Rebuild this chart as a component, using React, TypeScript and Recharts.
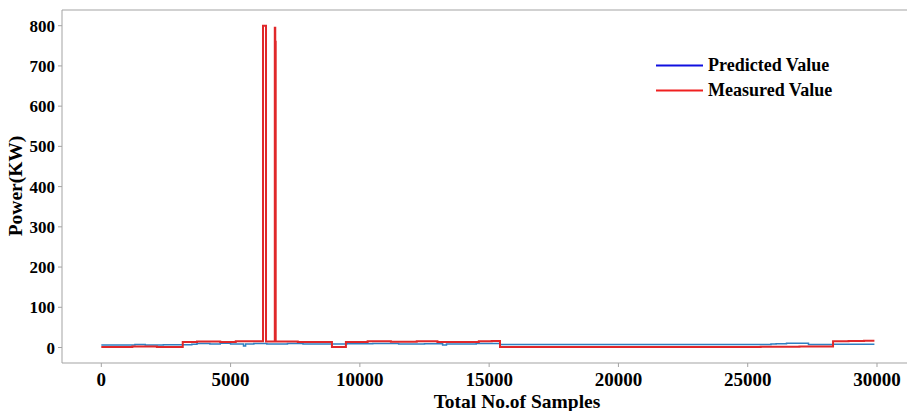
import React from 'react';
import { LineChart, Line, XAxis, YAxis, ReferenceLine, Label } from 'recharts';

const FONT = '"Liberation Serif", "Times New Roman", serif';
const SPINE = '#a3a3a3';
const BLUE = '#2f7fc1';
const RED = '#e0282a';

// axis ticks
const xTicks = [0, 5000, 10000, 15000, 20000, 25000, 30000];
const yTicks = [0, 100, 200, 300, 400, 500, 600, 700, 800];

const measuredSamples = [
  0, 1200, 2150, 3150, 3700, 4600, 5200, 6254, 6370, 6710, 6728, 6745, 7600,
  8920, 9460, 10300, 11200, 12200, 13000, 14000, 14600, 15100, 15420, 25500,
  27000, 28300, 28900, 29500, 29900,
];
const measuredPower = [
  1, 2.5, 1, 14, 15, 14, 15.5, 800, 15, 795, 760, 15, 14,
  1, 14, 15.5, 14.5, 15.5, 14, 13.5, 15.5, 16, 1, 2,
  2.5, 15.5, 16.5, 17, 17,
];

// predicted value
const predictedSamples = [
  0, 1300, 1700, 2400, 3150, 3500, 3700, 4200, 4600, 5000, 5500, 5580, 5900,
  6400, 7200, 7800, 9000, 9500, 10500, 11500, 12500, 13200, 13350, 14100,
  14500, 15420, 25900, 26100, 26500, 27350, 28300, 29900,
];
const predictedPower = [
  6, 7.5, 6, 7, 7, 8, 10, 9, 10.5, 9, 4, 9, 10,
  9, 10, 9, 8.5, 9.5, 10, 9, 9.5, 6.5, 9, 8.5,
  10, 7.5, 8.5, 9.5, 10.5, 7.5, 8, 8,
];

const toSeries = (xs: number[], ys: number[]) =>
  xs.map((x, i) => ({ sample: x, power: ys[i] }));

const measured = toSeries(measuredSamples, measuredPower);
const predicted = toSeries(predictedSamples, predictedPower);

const tickStyle = { fill: '#000', fontFamily: FONT, fontWeight: 'bold' };

const legendItems = [
  { name: 'Predicted Value', color: '#1010e0' },
  { name: 'Measured Value', color: '#f02020' },
];

export default function App() {
  return (
    <div
      style={{
        position: 'absolute',
        left: 0,
        top: 0,
        width: 907,
        height: 411,
        overflow: 'hidden',
        background: '#fff',
      }}
    >
      <LineChart
        width={925}
        height={411}
        margin={{ top: 10, right: 8, left: 0, bottom: 0 }}
      >
        <XAxis
          dataKey="sample"
          type="number"
          domain={[-1520, 31547]}
          ticks={xTicks}
          allowDataOverflow
          height={48}
          stroke={SPINE}
          tickSize={4}
          tickMargin={6}
          tick={{ ...tickStyle, fontSize: 19 }}
        >
          <Label
            content={() => (
              <text
                x={517}
                y={407.5}
                textAnchor="middle"
                fontFamily={FONT}
                fontWeight="bold"
                fontSize={19.5}
                fill="#000"
              >
                Total No.of Samples
              </text>
            )}
          />
        </XAxis>
        <YAxis
          dataKey="power"
          type="number"
          domain={[-38.5, 839]}
          ticks={yTicks}
          allowDataOverflow
          width={62}
          stroke={SPINE}
          tickSize={4}
          tickMargin={3}
          tick={{ ...tickStyle, fontSize: 17 }}
        >
          <Label
            content={() => (
              <text
                x={22}
                y={186}
                transform="rotate(-90, 22, 186)"
                textAnchor="middle"
                fontFamily={FONT}
                fontWeight="bold"
                fontSize={19.5}
                fill="#000"
              >
                Power(KW)
              </text>
            )}
          />
        </YAxis>
        <ReferenceLine y={839} stroke={SPINE} ifOverflow="extendDomain" />
        <Line
          data={predicted}
          dataKey="power"
          type="stepAfter"
          stroke={BLUE}
          strokeWidth={1.5}
          dot={false}
          isAnimationActive={false}
        />
        <Line
          data={measured}
          dataKey="power"
          type="stepAfter"
          stroke={RED}
          strokeWidth={2}
          dot={false}
          isAnimationActive={false}
        />
      </LineChart>
      <svg
        width={907}
        height={411}
        style={{ position: 'absolute', left: 0, top: 0, pointerEvents: 'none' }}
      >
        {legendItems.map((item, i) => (
          <g key={item.name}>
            <line
              x1={656}
              x2={703}
              y1={65.5 + i * 25}
              y2={65.5 + i * 25}
              stroke={item.color}
              strokeWidth={2}
            />
            <text
              x={708}
              y={71 + i * 25}
              fontFamily={FONT}
              fontWeight="bold"
              fontSize={18}
              fill="#000"
            >
              {item.name}
            </text>
          </g>
        ))}
      </svg>
    </div>
  );
}
